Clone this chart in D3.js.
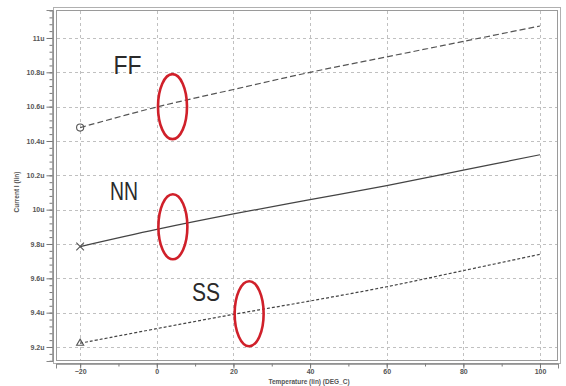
<!DOCTYPE html>
<html>
<head>
<meta charset="utf-8">
<script src="https://cdn.jsdelivr.net/npm/d3@7"></script>
<style>
  html, body { margin: 0; padding: 0; background: #fff; }
  svg { display: block; }
  text { font-family: "Liberation Sans", Arial, sans-serif; }
</style>
</head>
<body>
<svg id="chart" width="566" height="386"></svg>
<script>
// temperature sweep (DEG_C)
var temps = [-20, 0, 20, 40, 60, 80, 100];
// current in uA for each corner
var ffValues = [10.478, 10.598, 10.70, 10.80, 10.89, 10.98, 11.07];
var nnValues = [9.785, 9.885, 9.975, 10.058, 10.14, 10.23, 10.32];
var ssValues = [9.222, 9.307, 9.39, 9.468, 9.551, 9.645, 9.74];
var cornerNames = ["FF", "NN", "SS"];
// label anchors (temperature, current)
var labelT = [-11.3, -12.2, 9.2];
var labelV = [10.79, 10.058, 9.47];
// red ellipse annotations (temperature, current)
var markT = [4.1, 4.2, 24.1];
var markV = [10.60, 9.90, 9.394];
var yTicks = [9.2, 9.4, 9.6, 9.8, 10, 10.2, 10.4, 10.6, 10.8, 11];
var yTickLabels = ["9.2u", "9.4u", "9.6u", "9.8u", "10u", "10.2u", "10.4u", "10.6u", "10.8u", "11u"];
var xTicks = [-20, 0, 20, 40, 60, 80, 100];

var frame = { left: 56, right: 558, top: 10, bottom: 361 };

var svg = d3.select("#chart");

var x = d3.scaleLinear()
    .domain([-26.3, 104.7])
    .range([frame.left, frame.right]);
var y = d3.scaleLinear()
    .domain([9.1184, 11.163])
    .range([frame.bottom, frame.top]);

// frame (double gray border)
svg.append("rect")
    .attr("x", frame.left - 2.5).attr("y", frame.top - 2.5)
    .attr("width", frame.right - frame.left + 5).attr("height", frame.bottom - frame.top + 5)
    .attr("fill", "none").attr("stroke", "#b0b0b0").attr("stroke-width", 1);
svg.append("rect")
    .attr("x", frame.left + 0.5).attr("y", frame.top + 0.5)
    .attr("width", frame.right - frame.left - 1).attr("height", frame.bottom - frame.top - 1)
    .attr("fill", "none").attr("stroke", "#9a9a9a").attr("stroke-width", 1);

// grid
var grid = svg.append("g").attr("id", "grid")
    .attr("stroke", "#c0c0c0")
    .attr("stroke-width", 1)
    .attr("stroke-dasharray", "3,3");
xTicks.forEach(function (d) {
    grid.append("line")
        .attr("x1", Math.round(x(d)) + 0.5)
        .attr("x2", Math.round(x(d)) + 0.5)
        .attr("y1", frame.top + 1)
        .attr("y2", frame.bottom - 1);
});
yTicks.forEach(function (d) {
    grid.append("line")
        .attr("x1", frame.left + 1)
        .attr("x2", frame.right - 1)
        .attr("y1", Math.round(y(d)) + 0.5)
        .attr("y2", Math.round(y(d)) + 0.5);
});

// y axis
var yMinor = d3.range(9.12, 11.16, 0.04);
var yAxis = svg.append("g")
    .attr("transform", "translate(" + (frame.left - 3.5) + ",0)")
    .call(d3.axisLeft(y).tickValues(yMinor).tickSize(3).tickFormat(""));
yAxis.append("g")
    .call(d3.axisLeft(y).tickValues(yTicks).tickSize(6).tickFormat((d, i) => yTickLabels[i]));
yAxis.selectAll(".domain").attr("stroke", "#888");
yAxis.selectAll(".tick line").attr("stroke", "#777");
yAxis.selectAll("text")
    .attr("fill", "#555").style("font-size", "7px").style("font-weight", "bold")
    .attr("x", -8);

// x axis
var xMinor = d3.range(-20, 101, 10);
var xAxis = svg.append("g")
    .attr("transform", "translate(0," + (frame.bottom + 2.5) + ")")
    .call(d3.axisBottom(x).tickValues(xMinor).tickSize(3).tickFormat(""));
xAxis.append("g")
    .call(d3.axisBottom(x).tickValues(xTicks).tickSize(5).tickFormat(d3.format("d")));
xAxis.selectAll(".domain").attr("stroke", "#888");
xAxis.selectAll(".tick line").attr("stroke", "#777");
xAxis.selectAll("text")
    .attr("fill", "#555").style("font-size", "7px").style("font-weight", "bold")
    .attr("y", 6);

// axis titles
svg.append("text")
    .attr("x", (frame.left + frame.right) / 2 + 2)
    .attr("y", 384)
    .attr("text-anchor", "middle")
    .attr("fill", "#555")
    .style("font-size", "6.5px").style("font-weight", "bold")
    .text("Temperature (lin) (DEG_C)");
svg.append("text")
    .attr("transform", "translate(19,192) rotate(-90)")
    .attr("text-anchor", "middle")
    .attr("fill", "#555")
    .style("font-size", "6.5px").style("font-weight", "bold")
    .text("Current I (lin)");

// curves
var series = [
    { values: ffValues, dash: "6,3", color: "#555", width: 1.2 },
    { values: nnValues, dash: null, color: "#444", width: 1.2 },
    { values: ssValues, dash: "3,2", color: "#444", width: 1.2 }
];
var line = d3.line()
    .x((d, i) => x(temps[i]))
    .y(d => y(d))
    .curve(d3.curveCatmullRom);
series.forEach(function (s) {
    svg.append("path")
        .datum(s.values)
        .attr("d", line)
        .attr("fill", "none")
        .attr("stroke", s.color)
        .attr("stroke-width", s.width)
        .attr("stroke-dasharray", s.dash);
});

// first-point markers
var markerG = svg.append("g").attr("fill", "none").attr("stroke", "#555").attr("stroke-width", 1.1);
markerG.append("path")
    .attr("transform", "translate(" + x(temps[0]) + "," + y(ffValues[0]) + ")")
    .attr("d", d3.symbol(d3.symbolCircle, 40));
markerG.append("path")
    .attr("transform", "translate(" + x(temps[0]) + "," + y(nnValues[0]) + ")")
    .attr("d", d3.symbol(d3.symbolX, 40));
markerG.append("path")
    .attr("transform", "translate(" + x(temps[0]) + "," + y(ssValues[0]) + ")")
    .attr("d", d3.symbol(d3.symbolTriangle2, 36));

// corner labels
svg.selectAll("text.corner")
    .data(cornerNames)
    .join("text").attr("class", "corner")
    .attr("x", (d, i) => x(labelT[i]))
    .attr("y", (d, i) => y(labelV[i]))
    .attr("fill", "#2a2a2a")
    .attr("textLength", 28)
    .attr("lengthAdjust", "spacingAndGlyphs")
    .style("font-size", "25px")
    .text(d => d);

// red ellipses
svg.selectAll("ellipse.mark")
    .data(markT)
    .join("ellipse").attr("class", "mark")
    .attr("cx", (d, i) => x(d))
    .attr("cy", (d, i) => y(markV[i]))
    .attr("rx", 14.5)
    .attr("ry", 32.5)
    .attr("fill", "none")
    .attr("stroke", "#d0202a")
    .attr("stroke-width", 2.6);
</script>
</body>
</html>
